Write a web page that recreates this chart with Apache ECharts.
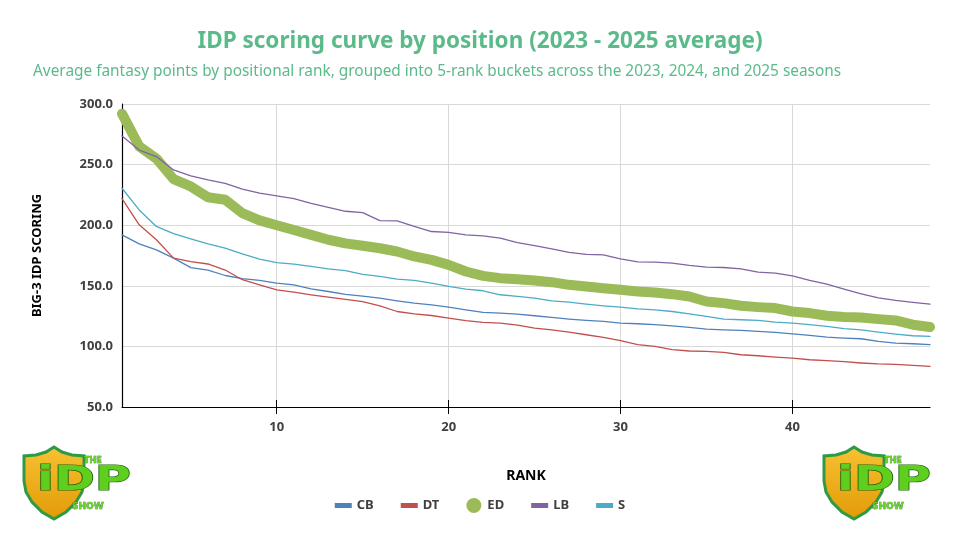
<!DOCTYPE html>
<html>
<head>
<meta charset="utf-8">
<script src="https://cdn.jsdelivr.net/npm/echarts@6/dist/echarts.min.js"></script>
<style>html,body{margin:0;padding:0;background:#fff}#c{width:960px;height:540px}</style>
</head>
<body>
<div id="c"></div>
<script>
const ranks = Array.from({length: 48}, (_, i) => String(i + 1));
const CB = [192, 184.6, 179.7, 172.8, 165, 163, 158.5, 156, 154.4, 152.2, 150.8, 147.5, 145.3, 143, 141.5, 139.8, 137.6, 135.7, 134.3, 132.4, 130.2, 128, 127.5, 126.6, 125.3, 123.9, 122.5, 121.4, 120.6, 119.2, 118.7, 117.9, 117, 115.7, 114.3, 113.7, 113.2, 112.4, 111.5, 110.4, 109.1, 107.7, 106.9, 106.3, 104.1, 102.7, 102.2, 101.4];
const DT = [222, 200.3, 188, 172.8, 170, 168, 163, 155, 150.8, 146.7, 144.8, 142.6, 140.7, 138.8, 137, 133.5, 128.8, 126.9, 125.5, 123.4, 121.2, 119.8, 119.2, 117.6, 115.1, 113.7, 111.8, 109.6, 107.4, 104.7, 101.4, 100, 97.3, 96.2, 95.9, 95.1, 93.1, 92.3, 91.2, 90.4, 89, 88.2, 87.4, 86.3, 85.5, 85.2, 84.4, 83.5];
const ED = [292, 265, 255, 238, 232, 223, 221, 210, 204, 200, 196, 192, 188, 185, 183, 181, 178.3, 174.2, 171.4, 167.3, 161.8, 158.2, 156.3, 155.5, 154.4, 153, 150.8, 149.5, 148, 146.7, 145.3, 144.5, 143.1, 141.2, 137.1, 135.7, 133.5, 132.4, 131.6, 128.8, 127.5, 125.3, 124.2, 123.9, 122.5, 121.4, 117.9, 116];
const LB = [273.6, 262, 256.6, 245.6, 240.7, 237.4, 234.6, 229.7, 226.4, 224.2, 222, 218, 214.8, 211.5, 210.4, 203.8, 203.6, 199, 194.8, 194, 192, 191.2, 189.3, 185.7, 183.2, 180.5, 177.5, 176, 175.5, 172.2, 169.8, 169.5, 168.7, 166.8, 165.4, 165.1, 164, 161.3, 160.4, 158.2, 154.4, 151.4, 147.3, 143.4, 140.1, 137.9, 136.3, 134.9];
const S = [230.5, 212.6, 199, 193, 188.7, 184.6, 181, 176.4, 172, 169.2, 167.8, 166, 164, 162.5, 159.5, 157.7, 155.5, 154.4, 152.2, 149.5, 147.3, 145.9, 142.6, 141.2, 139.8, 137.6, 136.5, 134.9, 133.5, 132.4, 131, 130.2, 128.8, 126.9, 124.7, 122.5, 122, 121.4, 120, 119.2, 117.9, 116.5, 114.6, 113.7, 111.8, 110.2, 108.8, 108.2];
const seriesNames = ['CB', 'DT', 'ED', 'LB', 'S'];
const titleText = 'IDP scoring curve by position (2023 - 2025 average)';
const subtitleText = 'Average fantasy points by positional rank, grouped into 5-rank buckets across the 2023, 2024, and 2025 seasons';

const colors = {CB: '#4F81BD', DT: '#C0504D', ED: '#9BBB59', LB: '#8064A2', S: '#4BACC6'};
const dataMap = {CB, DT, ED, LB, S};
const every10 = (idx, val) => Number(val) % 10 === 0;
const FONT = 'Noto Sans';
// thin bar centred in a 17x15 box (tiny corner marks keep the box size)
const barIcon = 'path://M0,0L0.01,0L0,0.01Z M0,5L17,5L17,10L0,10Z M17,15L16.99,15L17,14.99Z';

function logo(x, y) {
  return {
    type: 'group', x: x, y: y,
    children: [
      {type: 'polygon', shape: {points: [[30,0],[38,5],[48,8],[60,9],[60,34],[58,45],[52,55],[42,65],[30,72],[18,65],[8,55],[2,45],[0,34],[0,9],[12,8],[22,5]]},
       style: {fill: {type: 'linear', x: 0, y: 0, x2: 0, y2: 1, colorStops: [{offset: 0, color: '#f7c233'}, {offset: 1, color: '#e39a06'}]}, stroke: '#2e9a45', lineWidth: 3}},
      {type: 'text', x: 60, y: 10, style: {text: 'THE', font: '900 8px "DejaVu Sans"', fill: '#6bd32a', stroke: '#1d5e10', lineWidth: 0.5}},
      {type: 'text', x: 13, y: 17, scaleX: 1.45, style: {text: 'iDP', font: '900 34px "DejaVu Sans"', fill: '#5fcf1e', stroke: '#1d5e10', lineWidth: 1.2}},
      {type: 'text', x: 48, y: 55, style: {text: 'SHOW', font: '900 9px "DejaVu Sans"', fill: '#6bd32a', stroke: '#1d5e10', lineWidth: 0.5}}
    ]
  };
}

const chart = echarts.init(document.getElementById('c'), null, {renderer: 'canvas'});
chart.setOption({
  backgroundColor: '#ffffff',
  animation: false,
  title: [
    {text: titleText, left: 'center', top: 25, textStyle: {fontFamily: FONT, fontSize: 22.5, fontWeight: 'bold', color: '#5BBA8A'}},
    {text: subtitleText, left: 28, top: 59, textStyle: {fontFamily: FONT, fontSize: 15.4, fontWeight: 'normal', color: '#5BBA8A'}}
  ],
  grid: {left: 122, right: 30, top: 104, bottom: 133, containLabel: false},
  legend: {
    data: seriesNames.map(n => ({name: n, icon: n === 'ED' ? 'circle' : barIcon})),
    bottom: 22, left: 'center', itemWidth: 17, itemHeight: 15, itemGap: 27,
    textStyle: {fontFamily: FONT, fontSize: 13, fontWeight: 'bold', color: '#404040'}
  },
  xAxis: [{
    type: 'category', data: ranks, boundaryGap: false,
    name: 'RANK', nameLocation: 'middle', nameGap: 62,
    nameTextStyle: {fontFamily: FONT, fontSize: 14, fontWeight: 'bold', color: '#000'},
    axisLine: {lineStyle: {color: '#000', width: 1.2}},
    axisTick: {interval: every10, length: 7, lineStyle: {color: '#000'}},
    axisLabel: {interval: every10, margin: 14, fontFamily: FONT, fontSize: 13, fontWeight: 'bold', color: '#404040'},
    splitLine: {show: true, interval: every10, lineStyle: {color: '#d9d9d9', width: 1}}
  }, {
    type: 'category', data: ranks, boundaryGap: false, position: 'bottom',
    axisLine: {show: false}, axisLabel: {show: false}, splitLine: {show: false},
    axisTick: {interval: every10, inside: true, length: 7, lineStyle: {color: '#000'}}
  }],
  yAxis: {
    type: 'value', min: 50, max: 300, interval: 50,
    name: 'BIG-3 IDP SCORING', nameLocation: 'middle', nameGap: 78, nameRotate: 90,
    nameTextStyle: {fontFamily: FONT, fontSize: 13, fontWeight: 'bold', color: '#000'},
    axisLine: {show: true, lineStyle: {color: '#000', width: 1.2}},
    axisTick: {show: false},
    axisLabel: {margin: 9, fontFamily: FONT, fontSize: 13, fontWeight: 'bold', color: '#404040', formatter: v => v.toFixed(1)},
    splitLine: {lineStyle: {color: '#d9d9d9', width: 1}}
  },
  series: seriesNames.map(n => ({
    name: n, type: 'line', data: dataMap[n], xAxisIndex: 0,
    showSymbol: false, symbol: 'none', smooth: false,
    color: colors[n],
    lineStyle: {color: colors[n], width: n === 'ED' ? 10 : 1.3, cap: 'round', join: 'round'},
    z: n === 'ED' ? 2 : 3
  })),
  graphic: [logo(24, 447), logo(824, 447)]
});
</script>
</body>
</html>
